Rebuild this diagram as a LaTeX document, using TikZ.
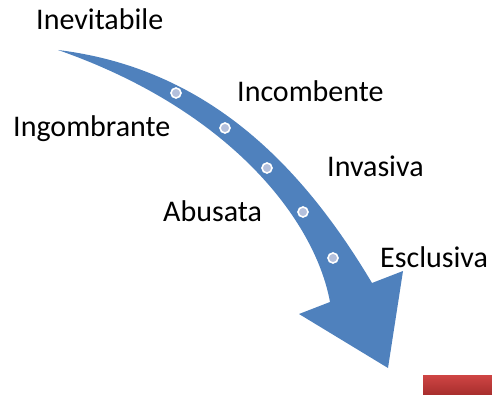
\documentclass[tikz,border=0pt]{standalone}
\usepackage{fontspec}
\setmainfont{Carlito}
\usetikzlibrary{calc, shadings}

\definecolor{arrowblue}{HTML}{4F81BD}
\definecolor{dotblue}{HTML}{B4C0DC}
\definecolor{bartop}{HTML}{CF4544}
\definecolor{barbottom}{HTML}{A92F2E}

\tikzset{
	word/.style={anchor=base west, inner sep=0pt, font=\fontsize{30}{34}\selectfont},
	stepdot/.style={circle, draw=white, line width=1.6pt, fill=dotblue, minimum size=10pt, inner sep=0pt}
}

\begin{document}
\begin{tikzpicture}[x=1pt, y=-1pt]
			\useasboundingbox (0,0) rectangle (492,395);

			% curved arrow
			\begin{scope}
				\fill[arrowblue] (58,50) .. controls (205,68) and (300,162) .. (372,283)
					-- (403,271) -- (388,368) -- (299,314) -- (330,302)
					.. controls (315,220) and (230,110) .. (58,50) -- cycle;
			\end{scope}

			% dots along the arrow
			\begin{scope}
				\foreach \x/\y [count=\i] in {176/93, 225/128, 267/168, 303/212, 333/258}
				{
					\node[stepdot] (d\i) at (\x,\y) {};
				}
			\end{scope}

			% labels
			\begin{scope}
				\node[word] (inevitabile) at (36,30) {Inevitabile};
				\node[word] (incombente) at (237,102) {Incombente};
				\node[word] (ingombrante) at (13,137) {Ingombrante};
				\node[word] (invasiva) at (327,177) {Invasiva};
				\node[word] (abusata) at (163,222) {Abusata};
				\node[word] (esclusiva) at (380,267) {Esclusiva};
			\end{scope}

			% red bar
			\begin{scope}
				\fill[black!20] (424,376) rectangle (492,395);
				\shade[top color=bartop, bottom color=barbottom] (423,375) rectangle (492,394);
			\end{scope}
		\end{tikzpicture}
\end{document}
